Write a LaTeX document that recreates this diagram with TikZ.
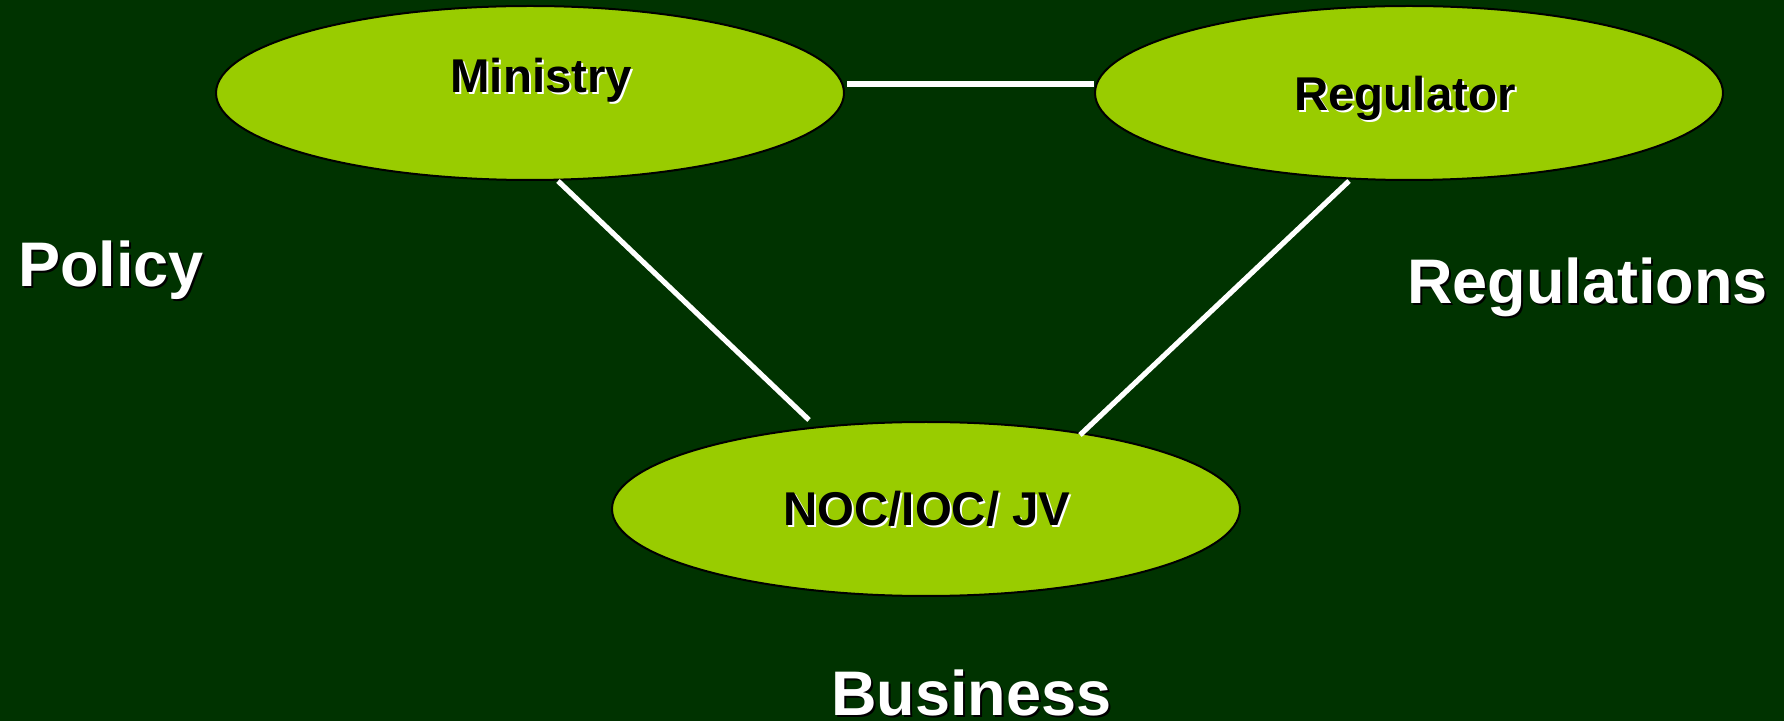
\documentclass[tikz,border=0pt]{standalone}
\usepackage{fontspec}
\setmainfont{Liberation Sans}
\usetikzlibrary{shapes.geometric}
\definecolor{slidebg}{RGB}{0,51,0}
\definecolor{leaf}{RGB}{153,204,0}
\newcommand{\shadowtext}[3]{\rlap{\kern1pt\raisebox{-1pt}{\color{#3}#1}}{\color{#2}#1}}

\begin{document}
\begin{tikzpicture}[x=0.5pt,y=-0.5pt,
    party/.style={ellipse,draw=black,line width=1pt,fill=leaf,minimum width=314pt,minimum height=87pt,inner sep=0},
    intext/.style={anchor=base west,inner sep=0,font=\bfseries\fontsize{23.7}{28}\selectfont},
    outtext/.style={anchor=base west,inner sep=0,font=\bfseries\fontsize{31.5}{38}\selectfont},
    link/.style={draw=white,line width=2.6pt}]
    \fill[slidebg] (0,0) rectangle (1784,721);
    \useasboundingbox (0,0) rectangle (1784,721);
    % the three parties
    \node[party] (ministry) at (530,93) {};
    \node[party] (regulator) at (1409,93) {};
    \node[party] (noc) at (926,509) {};
    \node[intext] (ministrytext) at (450,93) {\shadowtext{Ministry}{black}{white}};
    \node[intext] (regulatortext) at (1294,111) {\shadowtext{Regulator}{black}{white}};
    \node[intext] (noctext) at (783,526) {\shadowtext{NOC/IOC/ JV}{black}{white}};
    % links
    \draw[link] ([xshift=1pt,yshift=4.5pt]ministry.east) -- ([yshift=4.5pt]regulator.west);
    \draw[link] ([xshift=14pt]ministry.south) -- ([xshift=-58.5pt,yshift=0.5pt]noc.north);
    \draw[link] ([xshift=-30pt]regulator.south) -- ([xshift=77pt,yshift=-7pt]noc.north);
    % roles
    \node[outtext] (policy) at (18,287) {\shadowtext{Policy}{white}{black}};
    \node[outtext] (regulations) at (1407,304) {\shadowtext{Regulations}{white}{black}};
    \node[outtext] (business) at (831,715) {\shadowtext{Business}{white}{black}};
\end{tikzpicture}
\end{document}
